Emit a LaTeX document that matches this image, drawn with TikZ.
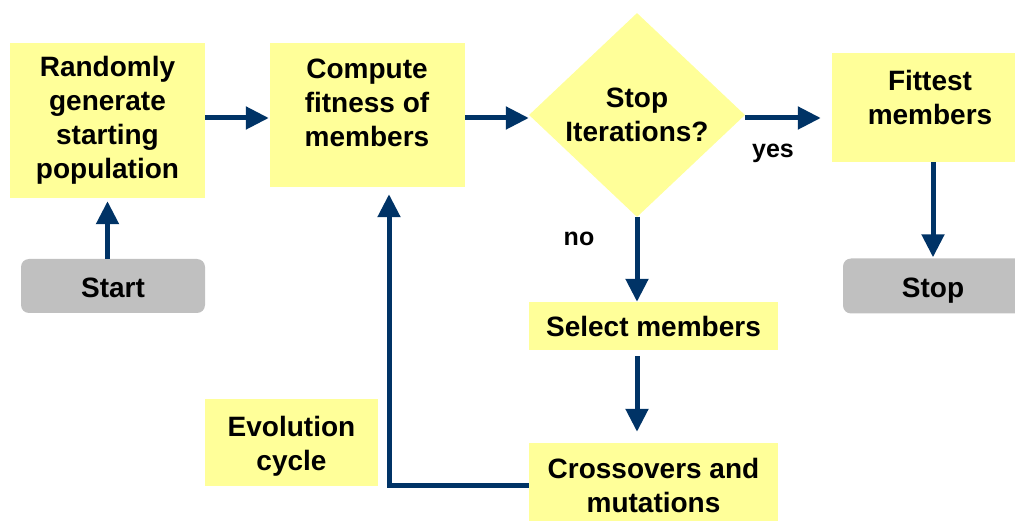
\documentclass[tikz,border=0pt]{standalone}
\usepackage{fontspec}
\setmainfont{Liberation Sans}
\usetikzlibrary{arrows.meta,shapes.geometric,calc}
\definecolor{boxyellow}{HTML}{FFFF99}
\definecolor{boxgray}{HTML}{C0C0C0}
\definecolor{navy}{HTML}{003366}
\begin{document}
\begin{tikzpicture}[x=1pt,y=-1pt,
  ybox/.style={draw=none, fill=boxyellow, inner sep=0pt},
  gbox/.style={draw=none, fill=boxgray, inner sep=0pt, rounded corners=8pt},
  txt/.style={inner sep=0pt, align=center, font=\bfseries\fontsize{28}{34}\selectfont},
  lbl/.style={inner sep=0pt, font=\bfseries\fontsize{25}{30}\selectfont},
  flow/.style={draw=navy, line width=5pt, -{Triangle[length=23pt,width=22pt]}}]
\useasboundingbox (0,0) rectangle (1015,521);
\clip (0,0) rectangle (1015,521);
\coordinate (row) at (0,118);
\coordinate (loopx) at (389,0);
% boxes
\node[ybox, txt, minimum width=195pt, minimum height=155pt] (gen) at (107.5,120.5) {Randomly\\generate\\starting\\population};
\node[gbox, txt, minimum width=184pt, minimum height=54pt] (start) at (113,286) {};
\node[txt] (starttxt) at (113,288) {Start};
\node[ybox, minimum width=195pt, minimum height=144pt] (fit) at (367.5,115) {};
\node[txt] (fittxt) at (367,103) {Compute\\fitness of\\members};
\node[diamond, fill=boxyellow, inner sep=0pt, minimum width=216pt, minimum height=204pt] (stopq) at (637,115) {};
\node[txt] (stopqtxt) at (637,115) {Stop\\Iterations?};
\node[ybox, minimum width=196pt, minimum height=109pt] (best) at (930,107.5) {};
\node[txt] (besttxt) at (930,97) {Fittest\\members};
\node[gbox, minimum width=180pt, minimum height=55pt] (stop) at (933,286) {};
\node[txt] (stoptxt) at (933,291) {Stop};
\node[ybox, txt, minimum width=249pt, minimum height=48pt] (sel) at (653.5,326) {Select members};
\node[ybox, txt, minimum width=249pt, minimum height=84pt] (cross) at (653.5,485) {Crossovers and\\mutations};
\node[ybox, minimum width=173pt, minimum height=87pt] (evo) at (291.5,442.5) {};
\node[txt] (evotxt) at (291.5,446) {Evolution\\cycle};
\node[lbl] (yes) at (773,153) {yes};
\node[lbl] (no) at (579,239) {no};
% connectors
\draw[flow, shorten >=3pt] (gen.south |- start.north) -- (gen.south);
\draw[flow, shorten >=1pt] (gen.east |- row) -- (fit.west |- row);
\draw[flow] (fit.east |- row) -- (stopq.west |- row);
\draw[flow, shorten >=11pt] (stopq.east |- row) -- (best.west |- row);
\draw[flow] (stopq.south) -- (stopq.south |- sel.north);
\draw[flow, shorten >=1pt] (best.south -| stop.north) -- (stop.north);
\draw[flow, shorten <=6pt, shorten >=11pt] (sel.south -| stopq.south) -- (cross.north -| stopq.south);
\draw[flow, shorten >=7pt] (cross.west) -| (loopx |- fit.south);
\end{tikzpicture}
\end{document}
